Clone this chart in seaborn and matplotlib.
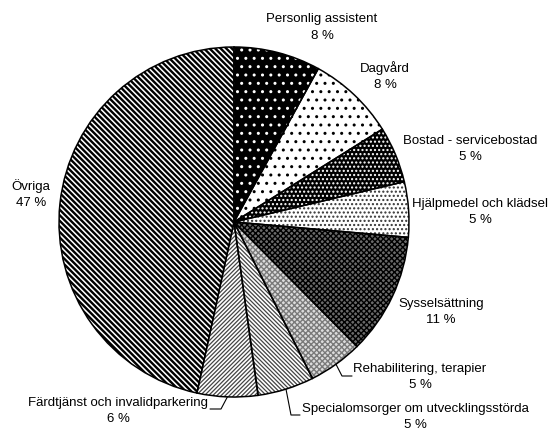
import numpy as np
import matplotlib
matplotlib.use("Agg")
import matplotlib.pyplot as plt
import seaborn as sns

# ---- data -----------------------------------------------------------
categories = [
    "Personlig assistent",
    "Dagvård",
    "Bostad - servicebostad",
    "Hjälpmedel och klädsel",
    "Sysselsättning",
    "Rehabilitering, terapier",
    "Specialomsorger om utvecklingsstörda",
    "Färdtjänst och invalidparkering",
    "Övriga",
]
shares = [8.0, 8.1, 5.2, 5.1, 11.2, 5.0, 5.2, 5.6, 46.6]

# ---- styles ---------------------------------------------------------
BS = chr(92)
face_colors = ["black", "white", "black", "white", "#6a6a6a", "#dcdcdc",
               "white", "white", "white"]
hatch_colors = ["white", "black", "white", "#333333", "black", "#7a7a7a",
                "#444444", "#444444", "black"]
hatches = ["..", "..", "....", "....", "x" * 6, "x" * 6, BS * 8, "/" * 8,
           BS * 6]
hatch_lw = [1.0, 1.0, 1.0, 1.0, 1.0, 1.0, 0.9, 0.9, 1.7]

sns.set_theme(style="white")
plt.rcParams["font.family"] = ["Liberation Sans", "DejaVu Sans"]
plt.rcParams["hatch.linewidth"] = 1.0

W, H = 553, 432
CX, CY, R = 234, 222, 175


def to_data(x, y):
    return ((x - CX) / R, (CY - y) / R)


label_px = [(322, 27.5), (385, 76), (470, 149), (480, 212), (441, 312),
            (420, 377), (415, 417), (118, 411), (31, 194)]
leader_px = {5: [(342, 376), (352, 376)],
             6: [(291, 415), (300, 415)],
             7: [(221, 409), (210, 409)]}


def with_hatch_lw(orig_draw, lw):
    def draw(renderer):
        with plt.rc_context({"hatch.linewidth": lw}):
            orig_draw(renderer)
    return draw


fig = plt.figure(figsize=(W / 100, H / 100), dpi=100)
ax = fig.add_axes([0, 0, 1, 1])

wedges, _ = ax.pie(shares, startangle=90, counterclock=False, radius=1,
                   center=(0, 0), colors=face_colors,
                   wedgeprops=dict(linewidth=0))
for w, h, hc, lw in zip(wedges, hatches, hatch_colors, hatch_lw):
    w.set_edgecolor(hc)
    w.set_hatch(h)
    w.set_linewidth(0)
    if hasattr(w, "set_hatch_linewidth"):
        w.set_hatch_linewidth(lw)
    w.draw = with_hatch_lw(w.draw, lw)

outline, _ = ax.pie(shares, startangle=90, counterclock=False, radius=1,
                    center=(0, 0), colors=["none"] * len(shares),
                    wedgeprops=dict(linewidth=1.1, edgecolor="black"))

for i, (cat, s) in enumerate(zip(categories, shares)):
    x, y = to_data(*label_px[i])
    ax.text(x, y, f"{cat}\n{s:.0f} %", ha="center", va="center",
            fontsize=9.5, linespacing=1.45, color="black")

for i, pts in leader_px.items():
    w = wedges[i]
    mid = np.deg2rad((w.theta1 + w.theta2) / 2)
    xs = [np.cos(mid)] + [to_data(*p)[0] for p in pts]
    ys = [np.sin(mid)] + [to_data(*p)[1] for p in pts]
    ax.plot(xs, ys, color="black", linewidth=0.8)

ax.set_aspect("auto")
ax.set_xlim(-CX / R, (W - CX) / R)
ax.set_ylim(-(H - CY) / R, CY / R)
ax.axis("off")

fig.savefig("out.png", dpi=100)
